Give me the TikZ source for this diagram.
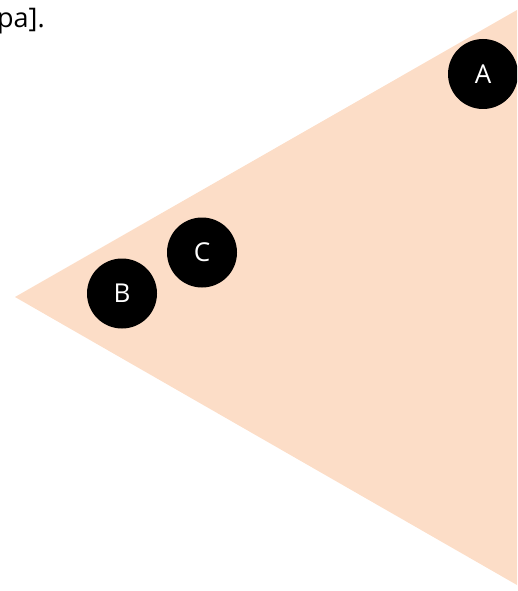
\documentclass[tikz,border=0pt]{standalone}
\usepackage{fontspec}
\setmainfont{Open Sans}
\definecolor{peach}{RGB}{252,221,199}
\tikzset{
  dot/.style={circle, fill=black, minimum size=70pt, inner sep=0pt, text=white, font=\fontsize{26}{30}\selectfont},
}
\begin{document}
\begin{tikzpicture}[x=1pt,y=-1pt]
\clip (0,0) rectangle (517,591);
\useasboundingbox (0,0) rectangle (517,591);
\coordinate (apex) at (15,297);
\coordinate (top) at (517,10);
\coordinate (bot) at (517,585);
\fill[peach] (apex) -- (top) -- (bot) -- cycle;
\node[anchor=base east, inner sep=0pt, font=\fontsize{27}{32}\selectfont] (txt) at (45,28) {pa].};
\node[dot] (A) at (483,74) {A};
\node[dot] (C) at (202,252.5) {C};
\node[dot] (B) at (122,293.5) {B};
\end{tikzpicture}
\end{document}
